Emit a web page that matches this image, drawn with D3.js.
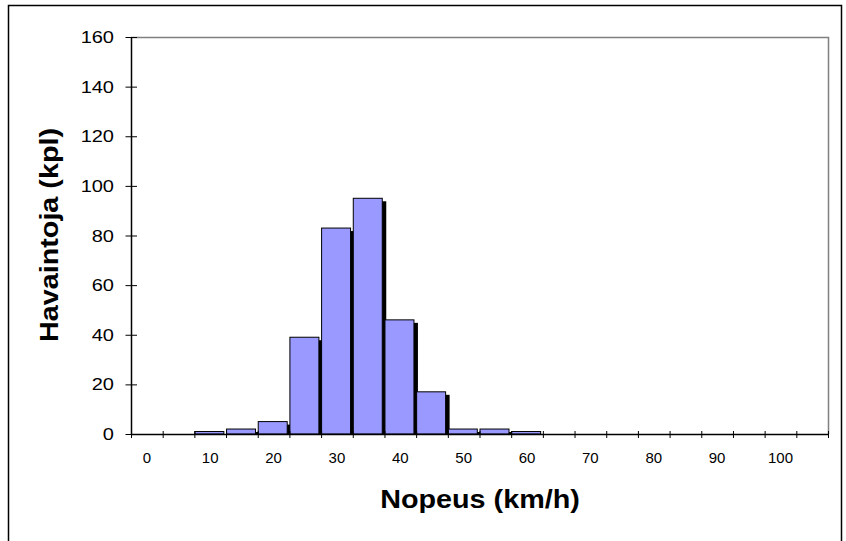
<!DOCTYPE html>
<html><head><meta charset="utf-8">
<script src="https://cdn.jsdelivr.net/npm/d3@7"></script>
<style>body{margin:0;background:#fff}svg{display:block}text{font-family:"Liberation Sans",Arial,sans-serif}</style>
</head><body>
<script>
const categories = [0,5,10,15,20,25,30,35,40,45,50,55,60,65,70,75,80,85,90,95,100,105];
const counts     = [0,0,1,2,5,39,83,95,46,17,2,2,1,0,0,0,0,0,0,0,0,0];
const xTickLabels = [0,10,20,30,40,50,60,70,80,90,100];
const yTicks = [0,20,40,60,80,100,120,140,160];
const xTitle = "Nopeus (km/h)";
const yTitle = "Havaintoja (kpl)";

const W = 846, H = 541;
const m = {left:131, top:37, right:828, bottom:434};
const svg = d3.select("body").append("svg").attr("width",W).attr("height",H);

// outer frame
svg.append("rect").attr("x",8.5).attr("y",5.5).attr("width",833).attr("height",545)
  .attr("fill","none").attr("stroke","#000").attr("stroke-width",1.5);

const x = d3.scaleBand().domain(categories).range([m.left,m.right]).padding(0);
const y = d3.scaleLinear().domain([0,160]).range([m.bottom,m.top]);
const bw = x.bandwidth();

// plot border (top/right gray)
svg.append("path").attr("d",`M${m.left},${m.top+0.5}H${m.right+0.5}V${m.bottom}`)
  .attr("fill","none").attr("stroke","#808080").attr("stroke-width",1.5);

svg.append("clipPath").attr("id","clip").append("rect")
  .attr("x",m.left).attr("y",m.top).attr("width",m.right-m.left+10).attr("height",m.bottom-m.top);

const g = svg.append("g").attr("clip-path","url(#clip)");
categories.forEach((c,i)=>{
  const v = counts[i];
  if(!v) return;
  const x0 = x(c)+0.5, w = bw-2.7, y0 = y(v);
  g.append("rect").attr("x",x0+4).attr("y",y0+3).attr("width",w).attr("height",m.bottom-y0)
    .attr("fill","#000");
  g.append("rect").attr("x",x0).attr("y",y0).attr("width",w).attr("height",m.bottom-y0)
    .attr("fill","#9999FF").attr("stroke","#000").attr("stroke-width",1);
});

// y axis
const ya = svg.append("g");
ya.append("line").attr("x1",m.left+0.5).attr("x2",m.left+0.5).attr("y1",m.top).attr("y2",m.bottom)
  .attr("stroke","#000").attr("stroke-width",1.5);
yTicks.forEach(t=>{
  ya.append("line").attr("x1",m.left-5.5).attr("x2",m.left+6).attr("y1",y(t)+0.5).attr("y2",y(t)+0.5)
    .attr("stroke","#000");
  ya.append("text").attr("transform",`translate(114,${y(t)+6}) scale(1.25,1)`)
    .attr("text-anchor","end").attr("font-size",16).attr("fill","#000").text(t);
});

// x axis
const xa = svg.append("g");
xa.append("line").attr("x1",m.left).attr("x2",m.right+0.5).attr("y1",m.bottom+0.5).attr("y2",m.bottom+0.5)
  .attr("stroke","#000").attr("stroke-width",1.5);
const bounds = categories.map(c=>x(c)).concat([m.right]);
bounds.forEach(b=>{
  xa.append("line").attr("x1",b+0.5).attr("x2",b+0.5).attr("y1",m.bottom-3).attr("y2",m.bottom+4)
    .attr("stroke","#000");
});
xTickLabels.forEach(t=>{
  xa.append("text").attr("x",x(t)+bw/2).attr("y",463).attr("text-anchor","middle")
    .attr("font-size",15).attr("fill","#000").text(t);
});

// titles
svg.append("text").attr("transform",`translate(480,508) scale(1.15,1)`).attr("text-anchor","middle")
  .attr("font-size",25).attr("font-weight","bold").text(xTitle);
svg.append("text").attr("transform",`translate(58,235) rotate(-90) scale(1.15,1)`).attr("text-anchor","middle")
  .attr("font-size",25).attr("font-weight","bold").text(yTitle);
</script>
</body></html>
